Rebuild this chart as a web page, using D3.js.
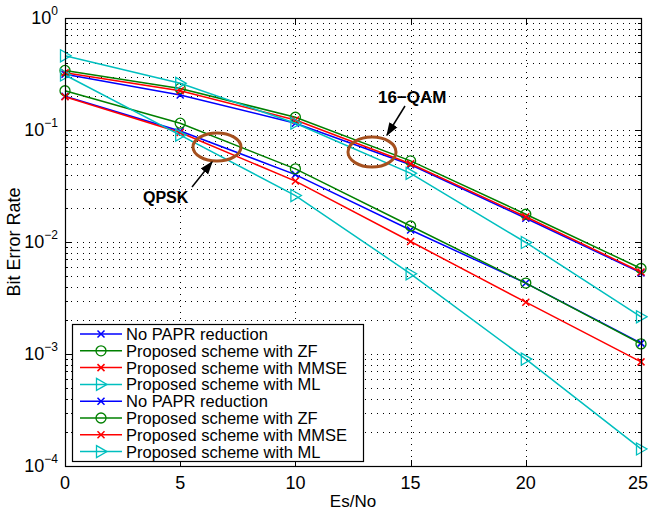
<!DOCTYPE html>
<html>
  <head>
    <meta charset="utf-8">
    <title>BER vs Es/No</title>
    <script src="https://cdn.jsdelivr.net/npm/d3@7/dist/d3.min.js"></script>
    <style>
      body { margin: 0; background: #fff; }
      svg text { font-family: "Liberation Sans", Arial, Helvetica, sans-serif; fill: #000; }
      .grid line { stroke: #000; stroke-width: 1; stroke-dasharray: 1,5; }
    </style>
  </head>
  <body>
    <svg width="648" height="515"></svg>
    <script>
      // Es/No points
      var esno = [0, 5, 10, 15, 20, 25];

      // 16-QAM curves
      var qamNoPapr = [0.315, 0.205, 0.115, 0.049, 0.0163, 0.0053];
      var qamZF     = [0.34, 0.235, 0.13, 0.053, 0.0177, 0.0058];
      var qamMMSE   = [0.325, 0.224, 0.123, 0.050, 0.0168, 0.0054];
      var qamML     = [0.46, 0.261, 0.115, 0.041, 0.0099, 0.00215];

      // QPSK curves
      var qpskNoPapr = [0.2, 0.098, 0.040, 0.0128, 0.0043, 0.00125];
      var qpskZF     = [0.224, 0.115, 0.045, 0.0139, 0.0043, 0.00123];
      var qpskMMSE   = [0.198, 0.095, 0.035, 0.0101, 0.0029, 0.00085];
      var qpskML     = [0.31, 0.09, 0.026, 0.0052, 0.0009, 0.000142];

      var xTicks = [0, 5, 10, 15, 20, 25];
      var yDecades = [0, -1, -2, -3, -4];

      var series = [
        { name: "No PAPR reduction",          values: qamNoPapr,  color: "#0000ff", marker: "x" },
        { name: "Proposed scheme with ZF",    values: qamZF,      color: "#008000", marker: "o" },
        { name: "Proposed scheme with MMSE",  values: qamMMSE,    color: "#ff0000", marker: "x" },
        { name: "Proposed scheme with ML",    values: qamML,      color: "#00bfbf", marker: ">" },
        { name: "No PAPR reduction",          values: qpskNoPapr, color: "#0000ff", marker: "x" },
        { name: "Proposed scheme with ZF",    values: qpskZF,     color: "#008000", marker: "o" },
        { name: "Proposed scheme with MMSE",  values: qpskMMSE,   color: "#ff0000", marker: "x" },
        { name: "Proposed scheme with ML",    values: qpskML,     color: "#00bfbf", marker: ">" }
      ];

      var svg = d3.select("svg");
      var pLeft = 65, pRight = 641, pTop = 18, pBottom = 466;

      var x = d3.scaleLinear().domain([0, 25]).range([pLeft, pRight]);
      var y = d3.scaleLog().domain([1e-4, 1]).range([pBottom, pTop]);

      // grid
      var minor = [];
      for (var d = -4; d < 0; d++) {
        for (var m = 2; m <= 9; m++) minor.push(m * Math.pow(10, d));
      }
      var grid = svg.append("g").attr("class", "grid");
      grid.selectAll("line.h")
        .data(minor.concat([1e-3, 1e-2, 1e-1]))
        .enter().append("line")
          .attr("x1", pLeft).attr("x2", pRight)
          .attr("y1", function(d) { return Math.round(y(d)) + 0.5; })
          .attr("y2", function(d) { return Math.round(y(d)) + 0.5; });
      grid.selectAll("line.v")
        .data(xTicks.slice(1, -1))
        .enter().append("line")
          .attr("x1", function(d) { return Math.round(x(d)) + 0.5; })
          .attr("x2", function(d) { return Math.round(x(d)) + 0.5; })
          .attr("y1", pTop).attr("y2", pBottom);

      // ticks on all four sides
      var ticks = svg.append("g").attr("stroke", "#000").attr("stroke-width", 1);
      xTicks.forEach(function(t) {
        var px = Math.round(x(t)) + 0.5;
        ticks.append("line").attr("x1", px).attr("x2", px).attr("y1", pBottom).attr("y2", pBottom - 6);
        ticks.append("line").attr("x1", px).attr("x2", px).attr("y1", pTop).attr("y2", pTop + 6);
      });
      yDecades.forEach(function(e) {
        var py = Math.round(y(Math.pow(10, e))) + 0.5;
        ticks.append("line").attr("x1", pLeft).attr("x2", pLeft + 6).attr("y1", py).attr("y2", py);
        ticks.append("line").attr("x1", pRight).attr("x2", pRight - 6).attr("y1", py).attr("y2", py);
      });
      minor.forEach(function(v) {
        var py = Math.round(y(v)) + 0.5;
        ticks.append("line").attr("x1", pLeft).attr("x2", pLeft + 3).attr("y1", py).attr("y2", py);
        ticks.append("line").attr("x1", pRight).attr("x2", pRight - 3).attr("y1", py).attr("y2", py);
      });

      // tick labels
      svg.append("g").selectAll("text")
        .data(xTicks)
        .enter().append("text")
          .attr("x", function(d) { return d === 25 ? x(d) - 3 : x(d); })
          .attr("y", pBottom + 23)
          .attr("text-anchor", "middle")
          .attr("font-size", 18)
          .text(function(d) { return d; });

      var yl = svg.append("g").selectAll("text")
        .data(yDecades)
        .enter().append("text")
          .attr("x", pLeft - 7)
          .attr("y", function(d) { return y(Math.pow(10, d)) + 6; })
          .attr("text-anchor", "end")
          .attr("font-size", 18);
      yl.append("tspan").text("10");
      yl.append("tspan")
        .attr("dy", -9)
        .attr("font-size", 12)
        .text(function(d) { return d === 0 ? "0" : "\u2212" + (-d); });

      // axis titles
      svg.append("text")
        .attr("x", (pLeft + pRight) / 2).attr("y", 507)
        .attr("text-anchor", "middle").attr("font-size", 17)
        .text("Es/No");
      svg.append("text")
        .attr("transform", "translate(20," + ((pTop + pBottom) / 2) + ") rotate(-90)")
        .attr("text-anchor", "middle").attr("font-size", 18)
        .text("Bit Error Rate");

      // curves
      var line = d3.line()
        .x(function(d, i) { return x(esno[i]); })
        .y(function(d) { return y(d); });

      function drawMarker(g, type, color, cx, cy) {
        if (type === "x") {
          g.append("path")
            .attr("d", "M" + (cx - 3.5) + "," + (cy - 3.5) + "L" + (cx + 3.5) + "," + (cy + 3.5) +
                       "M" + (cx - 3.5) + "," + (cy + 3.5) + "L" + (cx + 3.5) + "," + (cy - 3.5))
            .attr("stroke", color).attr("stroke-width", 1.5).attr("fill", "none");
        } else if (type === "o") {
          g.append("circle").attr("cx", cx).attr("cy", cy).attr("r", 5)
            .attr("stroke", color).attr("stroke-width", 1.3).attr("fill", "none");
        } else {
          g.append("path")
            .attr("d", "M" + (cx - 4.5) + "," + (cy - 6) + "L" + (cx + 6) + "," + cy + "L" + (cx - 4.5) + "," + (cy + 6) + "Z")
            .attr("stroke", color).attr("stroke-width", 1.3).attr("fill", "none");
        }
      }

      var plot = svg.append("g");
      series.forEach(function(s) {
        plot.append("path")
          .attr("d", line(s.values))
          .attr("fill", "none")
          .attr("stroke", s.color)
          .attr("stroke-width", 1.5);
        s.values.forEach(function(v, i) {
          drawMarker(plot, s.marker, s.color, x(esno[i]), y(v));
        });
      });

      // frame
      svg.append("rect")
        .attr("x", pLeft + 0.5).attr("y", pTop + 0.5)
        .attr("width", pRight - pLeft).attr("height", pBottom - pTop)
        .attr("fill", "none").attr("stroke", "#000").attr("stroke-width", 1.2);

      // annotations
      var brown = "#a5501e";
      svg.append("defs").append("marker")
        .attr("id", "arrow").attr("viewBox", "0 0 10 10")
        .attr("refX", 9).attr("refY", 5)
        .attr("markerWidth", 9).attr("markerHeight", 9)
        .attr("orient", "auto")
        .append("path").attr("d", "M0,1.5L10,5L0,8.5Z").attr("fill", "#000");

      svg.append("ellipse").attr("cx", 372).attr("cy", 152).attr("rx", 24).attr("ry", 15)
        .attr("fill", "none").attr("stroke", brown).attr("stroke-width", 3);
      svg.append("ellipse").attr("cx", 217).attr("cy", 147).attr("rx", 24).attr("ry", 14)
        .attr("fill", "none").attr("stroke", brown).attr("stroke-width", 3);

      svg.append("line").attr("x1", 405).attr("y1", 106).attr("x2", 387).attr("y2", 135)
        .attr("stroke", "#000").attr("stroke-width", 1.5).attr("marker-end", "url(#arrow)");
      svg.append("line").attr("x1", 192).attr("y1", 187).attr("x2", 212).attr("y2", 162)
        .attr("stroke", "#000").attr("stroke-width", 1.5).attr("marker-end", "url(#arrow)");

      svg.append("text").attr("x", 378).attr("y", 103)
        .attr("font-size", 17).attr("font-weight", "bold").text("16\u2212QAM");
      svg.append("text").attr("x", 143).attr("y", 203)
        .attr("font-size", 16).attr("font-weight", "bold").text("QPSK");

      // legend
      var lg = svg.append("g");
      var lx = 72, ly = 324, rowH = 16.8;
      lg.append("rect")
        .attr("x", lx + 0.5).attr("y", ly + 0.5)
        .attr("width", 291).attr("height", 137)
        .attr("fill", "#fff").attr("stroke", "#000").attr("stroke-width", 1.2);
      series.forEach(function(s, i) {
        var ry = ly + 10 + i * rowH;
        lg.append("line").attr("x1", 80).attr("x2", 122).attr("y1", ry).attr("y2", ry)
          .attr("stroke", s.color).attr("stroke-width", 1.5);
        drawMarker(lg, s.marker, s.color, 101, ry);
        lg.append("text").attr("x", 126).attr("y", ry + 6)
          .attr("font-size", 16.5).text(s.name);
      });
    </script>
  </body>
</html>
